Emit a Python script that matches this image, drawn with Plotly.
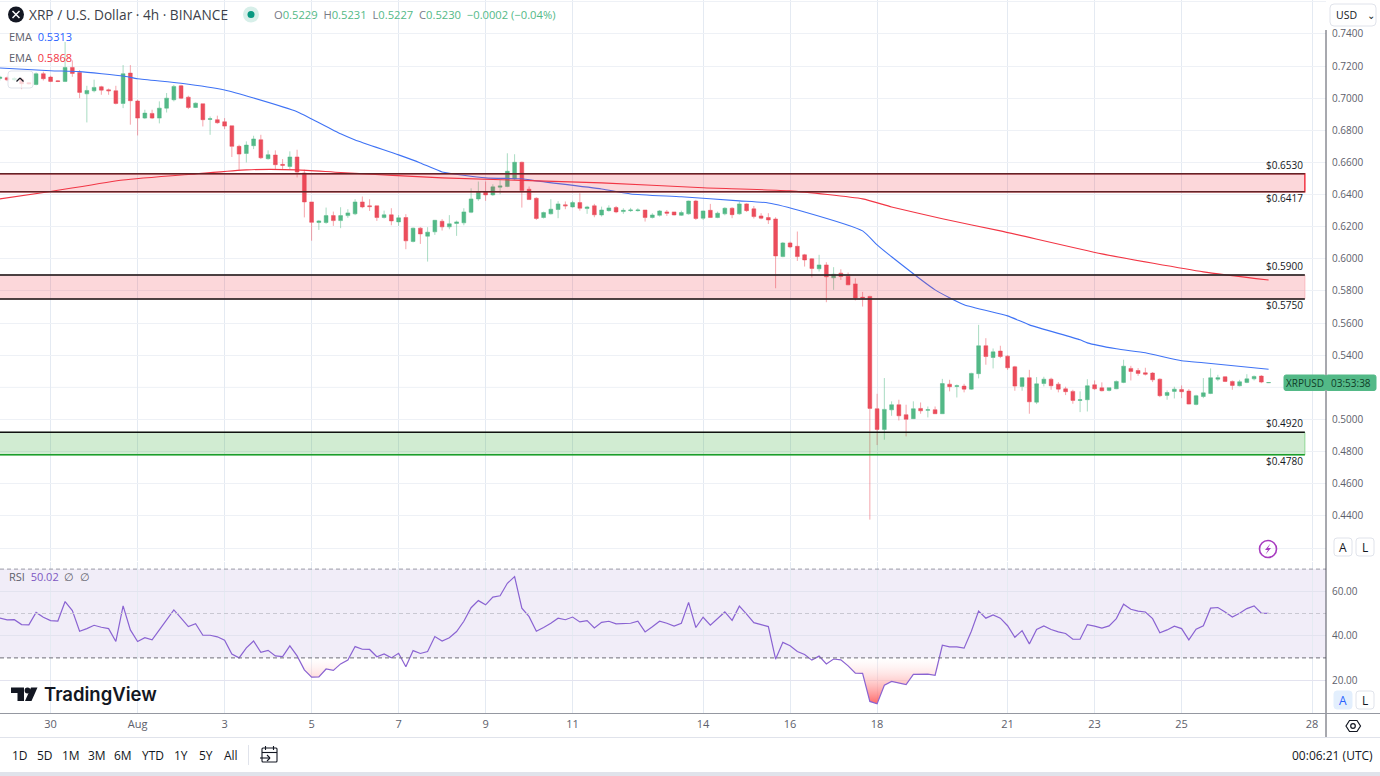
import pandas as pd
import numpy as np
import plotly.graph_objects as go

W, H = 1380, 776
FONT = "Open Sans"

start = "2023-07-28 20:00"
opens = [.7123,.7127,.7114,.7119,.7096,.7085,.7152,
 .7131,.7108,.7104,.7191,.7160,.7027,.7046,.7071,.7052,.7046,
 .6967,.7156,.6982,.6876,.6905,.6876,.6938,.6990,.7077,.7006,
 .6942,.6965,.6868,.6866,.6853,.6828,.6700,.6656,.6704,.6741,
 .6623,.6646,.6588,.6575,.6634,.6534,.6354,.6226,.6226,.6269,
 .6238,.6269,.6280,.6354,.6330,.6330,.6257,.6274,.6230,.6257,
 .6108,.6191,.6141,.6168,.6234,.6199,.6220,.6224,.6290,.6373,
 .6419,.6398,.6446,.6450,.6497,.6601,.6433,.6377,.6257,.6280,
 .6307,.6336,.6323,.6350,.6313,.6330,.6273,.6300,.6319,.6294,
 .6300,.6300,.6304,.6257,.6271,.6292,.6292,.6271,.6280,.6360,
 .6253,.6302,.6257,.6280,.6315,.6280,.6342,.6311,.6267,.6257,
 .6248,.6014,.6099,.6078,.6025,.6000,.5938,.5962,.5882,.5911,
 .5892,.5844,.5761,.5766,.5067,.4938,.5060,.5092,.5030,.5005,
 .5069,.5057,.5061,.5036,.5220,.5206,.5208,.5189,.5285,.5459,
 .5386,.5426,.5394,.5328,.5206,.5260,.5108,.5224,.5251,.5220,
 .5191,.5175,.5119,.5123,.5216,.5197,.5181,.5191,.5231,.5318,
 .5305,.5291,.5289,.5251,.5150,.5175,.5187,.5177,.5094,.5143,
 .5162,.5251,.5266,.5237,.5210,.5231,.5253,.5270,.5229]
closes = [.7131,.7114,.7123,.7090,.7090,.7152,.7121,
 .7104,.7104,.7191,.7154,.7036,.7048,.7067,.7050,.7046,.6967,
 .7152,.6984,.6876,.6907,.6876,.6938,.7000,.7073,.7000,.6942,
 .6969,.6866,.6872,.6847,.6826,.6700,.6652,.6708,.6746,.6629,
 .6648,.6586,.6582,.6634,.6540,.6354,.6227,.6236,.6269,.6238,
 .6269,.6286,.6354,.6323,.6325,.6257,.6274,.6236,.6255,.6112,
 .6191,.6155,.6166,.6240,.6199,.6218,.6230,.6292,.6373,.6419,
 .6398,.6448,.6454,.6545,.6601,.6425,.6369,.6251,.6288,.6309,
 .6342,.6330,.6350,.6315,.6323,.6274,.6304,.6317,.6292,.6302,
 .6304,.6304,.6257,.6273,.6298,.6284,.6273,.6288,.6360,.6251,
 .6298,.6257,.6284,.6315,.6275,.6342,.6300,.6263,.6253,.6242,
 .6018,.6099,.6074,.6014,.5993,.5940,.5962,.5888,.5904,.5890,
 .5838,.5757,.5757,.5069,.4938,.5063,.5092,.5023,.5001,.5067,
 .5054,.5061,.5036,.5224,.5204,.5210,.5189,.5287,.5459,.5392,
 .5421,.5392,.5322,.5208,.5260,.5110,.5222,.5251,.5210,.5189,
 .5173,.5119,.5123,.5210,.5191,.5179,.5198,.5237,.5332,.5299,
 .5287,.5282,.5247,.5148,.5168,.5189,.5173,.5096,.5148,.5166,
 .5260,.5260,.5237,.5212,.5235,.5253,.5268,.5233,.5230]
highs = [.7139,.7135,.7131,.7131,.7100,.7160,.7165,
 .7140,.7112,.7350,.7235,.7175,.7077,.7115,.7077,.7060,.7077,
 .7206,.7206,.6990,.6928,.6928,.6980,.7032,.7083,.7083,.7015,
 .6973,.6965,.6886,.6891,.6876,.6828,.6710,.6731,.6766,.6772,
 .6675,.6675,.6621,.6669,.6679,.6555,.6354,.6242,.6319,.6294,
 .6321,.6309,.6371,.6388,.6371,.6330,.6300,.6315,.6272,.6278,
 .6195,.6197,.6197,.6242,.6247,.6272,.6238,.6315,.6439,.6481,
 .6481,.6464,.6491,.6657,.6651,.6605,.6450,.6383,.6294,.6371,
 .6359,.6357,.6361,.6408,.6330,.6342,.6325,.6333,.6329,.6315,
 .6317,.6315,.6304,.6284,.6304,.6304,.6292,.6300,.6362,.6367,
 .6300,.6342,.6294,.6321,.6321,.6356,.6346,.6329,.6284,.6284,
 .6259,.6105,.6107,.6170,.6031,.6004,.6025,.5979,.5948,.5935,
 .5915,.5879,.5794,.5770,.5160,.5258,.5113,.5123,.5092,.5113,
 .5106,.5081,.5081,.5253,.5247,.5218,.5222,.5291,.5589,.5506,
 .5442,.5459,.5401,.5334,.5264,.5309,.5264,.5266,.5260,.5233,
 .5204,.5185,.5175,.5251,.5243,.5231,.5198,.5243,.5372,.5334,
 .5320,.5322,.5295,.5256,.5181,.5204,.5212,.5189,.5154,.5258,
 .5318,.5278,.5268,.5243,.5247,.5282,.5274,.5276,.5231]
lows = [.7110,.7106,.7106,.7056,.7085,.7080,.7110,
 .7100,.7100,.7100,.7133,.7000,.6849,.7036,.7021,.7021,.6961,
 .6938,.6835,.6768,.6870,.6870,.6843,.6911,.6980,.6994,.6932,
 .6938,.6824,.6772,.6841,.6808,.6634,.6551,.6600,.6683,.6621,
 .6617,.6555,.6555,.6559,.6507,.6258,.6113,.6180,.6218,.6205,
 .6191,.6255,.6272,.6315,.6298,.6236,.6251,.6209,.6205,.6060,
 .6102,.6093,.5983,.6149,.6176,.6184,.6143,.6209,.6284,.6361,
 .6361,.6392,.6402,.6446,.6490,.6319,.6367,.6242,.6251,.6276,
 .6253,.6309,.6319,.6300,.6280,.6259,.6263,.6294,.6284,.6280,
 .6292,.6294,.6232,.6251,.6263,.6267,.6271,.6267,.6275,.6242,
 .6242,.6255,.6253,.6271,.6253,.6275,.6292,.6251,.6246,.6217,
 .5817,.6010,.6066,.5987,.5952,.5884,.5921,.5730,.5807,.5869,
 .5836,.5741,.5703,.4377,.4841,.4874,.5023,.4994,.4895,.5003,
 .5036,.5013,.5034,.5034,.5175,.5137,.5169,.5185,.5256,.5341,
 .5318,.5382,.5309,.5179,.5179,.5036,.5096,.5206,.5185,.5169,
 .5152,.5098,.5046,.5050,.5185,.5175,.5175,.5189,.5226,.5243,
 .5272,.5274,.5233,.5139,.5123,.5131,.5133,.5094,.5088,.5133,
 .5158,.5239,.5233,.5185,.5206,.5226,.5243,.5226,.5227]
rsi = [47.9,47.1,47.2,45.0,44.9,50.5,48.3,46.8,46.6,55.4,51.3,42.0,43.2,44.7,43.8,43.2,
 37.4,53.4,42.6,37.4,39.1,38.1,42.6,47.1,51.6,47.9,44.1,45.4,40.2,40.2,39.5,38.0,
 31.7,30.0,34.5,37.6,32.5,33.4,30.9,30.6,35.4,30.9,24.6,21.3,21.4,25.0,24.4,27.3,
 29.0,35.1,33.9,33.8,30.5,31.8,30.0,32.1,26.0,33.3,32.0,32.9,39.6,37.6,39.1,41.9,
 46.5,52.6,55.8,53.9,57.4,58.0,63.6,66.6,52.4,48.6,42.0,43.7,45.6,47.9,47.2,48.4,
 46.2,46.8,43.5,46.0,46.5,45.3,45.6,45.6,46.5,41.7,44.0,46.5,45.6,44.3,45.6,55.0,
 43.7,48.3,44.7,47.7,50.7,46.9,53.3,49.7,45.9,45.0,44.1,29.4,37.0,35.5,32.9,31.5,
 29.0,30.8,27.3,29.5,29.1,26.4,23.1,23.0,10.4,9.3,17.7,19.4,18.6,18.0,22.6,22.5,
 22.7,22.2,35.7,35.0,35.0,34.4,42.0,51.1,47.9,49.4,47.9,44.5,39.3,42.3,36.3,42.8,
 44.4,42.8,41.7,41.0,38.4,38.4,45.0,44.3,43.4,44.4,47.7,54.2,51.9,51.1,50.7,47.7,
 41.3,42.6,44.3,43.2,38.1,42.9,44.5,52.4,52.7,50.7,48.4,50.1,52.2,53.4,50.1,50.02]
ema_fast_idx = [0,7,11,17,19,25,31,35,41,43,47,49,55,58,61,67,72,74,83,87,94,102,106,111,
                119,121,123,129,133,139,142,149,150,154,158,163,166,175]
ema_fast = [.7188,.7171,.7165,.7138,.7121,.7093,.7051,.7001,.6916,.6871,.6778,.6740,.6647,
            .6597,.6541,.6504,.6498,.6485,.6435,.6404,.6386,.6361,.6348,.6292,.6174,.6087,
            .6013,.5807,.5714,.5645,.5589,.5496,.5477,.5440,.5415,.5366,.5353,.5313]
ema_slow_idx = [0,7,17,27,34,41,47,61,83,97,109,119,123,130,138,152,166,175]
ema_slow = [.6373,.6419,.6491,.6529,.6554,.6554,.6537,.6504,.6473,.6442,.6423,.6373,.6323,
            .6249,.6174,.6031,.5919,.5868]
zones_top = [.6530, .5900, .4920]
zones_bottom = [.6417, .5750, .4780]
zone_end = "2023-08-27 20:00"
label_x = "2023-08-27 00:00"
price_ticks = [.42,.44,.46,.48,.50,.54,.56,.58,.60,.62,.64,.66,.68,.70,.72,.74,.76]
price_text = ["","0.4400","0.4600","0.4800","0.5000","0.5400","0.5600","0.5800",
              "0.6000","0.6200","0.6400","0.6600","0.6800","0.7000","0.7200","0.7400",""]
grid_only_price = [.52]
date_ticks = ["2023-07-30","2023-08-01","2023-08-03","2023-08-05","2023-08-07","2023-08-09",
              "2023-08-11","2023-08-14","2023-08-16","2023-08-18","2023-08-21","2023-08-23",
              "2023-08-25","2023-08-28"]
date_text = ["30","Aug","3","5","7","9","11","14","16","18","21","23","25","28"]
rsi_ticks = [20,40,60]
range_buttons = ["1D","5D","1M","3M","6M","YTD","1Y","5Y","All"]

UP, DOWN = "#53b987", "#eb4d5c"
times = pd.date_range(start, periods=len(opens), freq="4h")
ef_t = times[ema_fast_idx]
es_t = times[ema_slow_idx]
rsi_low = np.minimum(np.array(rsi), 30.0)


def X(p):
    return p / W


def Y(p):
    return 1 - p / H


def line(x0, y0, x1, y1, color, width=1, dash="solid", layer="above"):
    return dict(type="line", xref="paper", yref="paper", x0=X(x0), x1=X(x1), y0=Y(y0), y1=Y(y1),
                line=dict(color=color, width=width, dash=dash), layer=layer)


def rrect(x0, y0, x1, y1, r, stroke="#e0e3eb", fill="white", width=1):
    a, b, c, d = X(x0), X(x1), Y(y0), Y(y1)
    rx, ry = r / W, r / H
    path = (f"M{a+rx},{c} L{b-rx},{c} Q{b},{c} {b},{c-ry} L{b},{d+ry} Q{b},{d} {b-rx},{d} "
            f"L{a+rx},{d} Q{a},{d} {a},{d+ry} L{a},{c-ry} Q{a},{c} {a+rx},{c} Z")
    return dict(type="path", xref="paper", yref="paper", path=path, fillcolor=fill,
                line=dict(color=stroke, width=width), layer="above")


def poly(points, fill="#131722", stroke=None, width=1):
    path = "M" + " L".join(f"{X(a)},{Y(b)}" for a, b in points) + " Z"
    return dict(type="path", xref="paper", yref="paper", path=path, fillcolor=fill,
                line=dict(color=stroke or fill, width=width if stroke else 0), layer="above")


def circle(cx, cy, r, fill, stroke=None, width=0):
    return dict(type="circle", xref="paper", yref="paper", x0=X(cx - r), x1=X(cx + r),
                y0=Y(cy + r), y1=Y(cy - r), fillcolor=fill,
                line=dict(color=stroke or fill, width=width), layer="above")


def text(x, y, s, size=12, color="#131722", anchor="left", bg=None, family=FONT, weight=None):
    f = dict(family=family, size=size, color=color)
    if weight:
        f["weight"] = weight
    return dict(xref="paper", yref="paper", x=X(x), y=Y(y), text=s, showarrow=False, xanchor=anchor,
                yanchor="middle", font=f, bgcolor=bg, borderpad=0)


fig = go.Figure()
fig.add_trace(go.Candlestick(
    x=times, open=opens, high=highs, low=lows, close=closes, xaxis="x", yaxis="y", whiskerwidth=0,
    increasing=dict(fillcolor=UP, line=dict(color="rgba(83,185,135,0.5)", width=1)),
    decreasing=dict(fillcolor=DOWN, line=dict(color="rgba(235,77,92,0.5)", width=1)),
    showlegend=False))
fig.add_trace(go.Scatter(x=ef_t, y=ema_fast, mode="lines",
                         line=dict(color="#3f73f5", width=1.1, shape="spline", smoothing=0.5),
                         xaxis="x", yaxis="y", showlegend=False))
fig.add_trace(go.Scatter(x=es_t, y=ema_slow, mode="lines",
                         line=dict(color="#f23645", width=1.1, shape="spline", smoothing=0.5),
                         xaxis="x", yaxis="y", showlegend=False))
fig.add_trace(go.Scatter(x=times, y=[30] * len(times), mode="lines", line=dict(width=0),
                         xaxis="x2", yaxis="y2", showlegend=False))
fig.add_trace(go.Scatter(x=times, y=rsi_low, mode="lines", line=dict(width=0), fill="tonexty",
                         fillgradient=dict(type="vertical", start=30, stop=9,
                                           colorscale=[[0, "rgba(255,255,255,0.2)"], [1, "rgba(255,82,82,0.9)"]]),
                         xaxis="x2", yaxis="y2", showlegend=False))
fig.add_trace(go.Scatter(x=times, y=rsi, mode="lines", line=dict(color="#8a63d2", width=1.2),
                         xaxis="x2", yaxis="y2", showlegend=False))

shapes = []
# RSI band and levels
shapes.append(dict(type="rect", xref="paper", yref="y2", x0=0, x1=X(1326), y0=30, y1=70,
                   fillcolor="rgba(126,87,194,0.11)", line=dict(width=0), layer="below"))
for lvl, col in [(70, "#9a9aa6"), (50, "#c9c8d2"), (30, "#6f6f78")]:
    shapes.append(dict(type="line", xref="paper", yref="y2", x0=0, x1=X(1326), y0=lvl, y1=lvl,
                       line=dict(color=col, width=1, dash="4px,3px"), layer="above"))
# Grid line kept where the last-price tag covers the tick label
for p in grid_only_price:
    shapes.append(dict(type="line", xref="paper", yref="y", x0=0, x1=X(1326), y0=p, y1=p,
                       line=dict(color="#eef1f6", width=1), layer="below"))
# Zones drawn through data coordinates
zone_fill = ["rgba(242,54,69,0.2)", "rgba(242,54,69,0.2)", "rgba(44,170,50,0.22)"]
zone_side = ["#f23645", "#f9b9bf", "#8fd694"]
top_col = ["rgba(50,30,30,0.75)", "#111111", "#111111"]
bot_col = ["rgba(50,30,30,0.75)", "#111111", "#1b9e2b"]
tm0 = times[0] - pd.Timedelta(hours=8)
for i in range(3):
    shapes.append(dict(type="rect", xref="x", yref="y", x0=tm0, x1=zone_end, y0=zones_bottom[i], y1=zones_top[i],
                       fillcolor=zone_fill[i], line=dict(color=zone_side[i], width=1.5 if i == 0 else 1), layer="above"))
    shapes.append(dict(type="line", xref="x", yref="y", x0=tm0, x1=zone_end, y0=zones_top[i], y1=zones_top[i],
                       line=dict(color=top_col[i], width=1.5), layer="above"))
    shapes.append(dict(type="line", xref="x", yref="y", x0=tm0, x1=zone_end, y0=zones_bottom[i], y1=zones_bottom[i],
                       line=dict(color=bot_col[i], width=1.5), layer="above"))

# Chrome
shapes += [
    line(1326, 30, 1326, 737, "#50535e", 1),
    line(0, 713.5, 1380, 713.5, "#9598a1", 1),
    line(0, 737.5, 1380, 737.5, "#e0e3eb", 1),
    dict(type="rect", xref="paper", yref="paper", x0=0, x1=1, y0=Y(776), y1=Y(772),
         fillcolor="#e0e3eb", line=dict(width=0), layer="above"),
    line(248.5, 745, 248.5, 765, "#e0e3eb", 1),
    rrect(1330, 4, 1376, 26, 4),
    rrect(8, 71, 33, 88, 3, stroke="#e0e3eb", fill="rgba(255,255,255,0.75)"),
    rrect(1334, 538, 1352, 556, 3),
    rrect(1356, 538, 1374, 556, 3),
    rrect(1334, 691, 1352, 709, 3, stroke="#e3effd", fill="#e3effd"),
    rrect(1356, 691, 1374, 709, 3),
    # Last price tag
    rrect(1284, 375, 1326, 390.5, 2, stroke="#53b987", fill="#53b987"),
    rrect(1326, 375, 1376, 390.5, 2, stroke="#53b987", fill="#53b987"),
    # Symbol logo and market dot
    circle(16, 14.5, 8, "#131722"),
    circle(251, 14.5, 8, "#d7efe9"),
    circle(251, 14.5, 3.5, "#089981"),
    line(12.5, 11, 19.5, 18, "white", 1.5),
    line(19.5, 11, 12.5, 18, "white", 1.5),
    line(16.5, 81.5, 20, 78, "#131722", 1.2),
    line(20, 78, 23.5, 81.5, "#131722", 1.2),
    # Lightning button
    circle(1268, 549, 8.5, "rgba(0,0,0,0)", "#a83cc0", 1.6),
    poly([(1270.5, 543.5), (1265, 550), (1268, 550), (1265.5, 554.5), (1271, 548), (1268, 548)], fill="#a83cc0"),
    # TradingView mark
    poly([(11, 687.5), (24, 687.5), (24, 701), (17.5, 701), (17.5, 693), (11, 693)]),
    circle(27.5, 690.5, 2.9, "#131722"),
    poly([(31, 687.5), (37.5, 687.5), (31.5, 701), (25, 701)]),
    # Settings icon
    poly([(1346, 726), (1349.5, 720.5), (1357, 720.5), (1360.5, 726), (1357, 731.5), (1349.5, 731.5)],
         fill="white", stroke="#131722", width=1.2),
    circle(1353, 726, 2.3, "white", "#131722", 1.2),
    # Calendar icon
    rrect(262, 748, 277, 762, 1, stroke="#131722", fill="white", width=1.1),
    line(262, 752.5, 277, 752.5, "#131722", 1.1),
    line(265.5, 746, 265.5, 750, "#131722", 1.1),
    line(273.5, 746, 273.5, 750, "#131722", 1.1),
    line(260, 758, 270, 758, "#131722", 1.1),
    line(267, 755, 270, 758, "#131722", 1.1),
    line(267, 761, 270, 758, "#131722", 1.1),
]
fig.update_layout(shapes=shapes)

G = "#787b86"
ann = [
    text(28, 14.5, "XRP / U.S. Dollar · 4h · BINANCE", 13.7, "#3c3f49"),
    text(273, 14.5,
         f"<span style='color:{G}'>O</span><span style='color:{UP}'>0.5229</span>"
         f"&#160;&#160;<span style='color:{G}'>H</span><span style='color:{UP}'>0.5231</span>"
         f"&#160;&#160;<span style='color:{G}'>L</span><span style='color:{UP}'>0.5227</span>"
         f"&#160;&#160;<span style='color:{G}'>C</span><span style='color:{UP}'>0.5230</span>"
         f"&#160;&#160;<span style='color:{UP}'>−0.0002 (−0.04%)</span>", 11.2),
    text(8, 36, f"<span style='color:#5d606b'>EMA</span>&#160;&#160;<span style='color:#2962ff'>0.5313</span>", 11),
    text(8, 58, f"<span style='color:#5d606b'>EMA</span>&#160;&#160;<span style='color:#f23645'>0.5868</span>", 11),
    text(8, 576.5, f"<span style='color:#5d606b'>RSI</span>&#160;&#160;<span style='color:#7e57c2'>50.02</span>"
                   f"&#160;&#160;<span style='color:#5d606b'>∅&#160;&#160;∅</span>", 11),
    text(43, 694, "TradingView", 18.5, "#131722", family="Inter", weight=600),
    text(1335, 15, "USD", 10.5, "#131722"),
    text(1366, 14.5, "⌄", 10, "#131722"),
    text(1343, 547, "A", 12, "#131722", "center"),
    text(1365, 547, "L", 12, "#131722", "center"),
    text(1343, 700, "A", 12, "#2962ff", "center"),
    text(1365, 700, "L", 12, "#131722", "center"),
    text(1305, 382.7, "XRPUSD", 10, "#0f3d28", "center"),
    text(1351, 382.7, "03:53:38", 10, "#0f3d28", "center"),
    text(1374, 755, "00:06:21 (UTC)", 12, "#131722", "right"),
]
btn_x = [20, 45, 71, 97, 123, 153, 181, 206, 231]
for bx, b in zip(btn_x, range_buttons):
    ann.append(text(bx, 755, b, 12, "#131722", "center"))
for lv, above in [(zones_top[0], True), (zones_bottom[0], False), (zones_top[1], True),
                  (zones_bottom[1], False), (zones_top[2], True), (zones_bottom[2], False)]:
    ann.append(dict(xref="x", yref="y", x=label_x, y=lv, text=f"${lv:.4f}", showarrow=False,
                    xanchor="left", yanchor="bottom" if above else "top", xshift=-5, yshift=0 if above else 3,
                    font=dict(family=FONT, size=10, color="#131722")))
fig.update_layout(annotations=ann)

xr = ["2023-07-28 20:05", "2023-08-28 07:40"]
grid_v = "#e4eaf2"
grid_h = "#eef1f6"
fig.update_layout(
    width=W, height=H, margin=dict(l=0, r=0, t=0, b=0), paper_bgcolor="white", plot_bgcolor="white",
    boxgap=0.25, showlegend=False, hovermode=False,
    font=dict(family=FONT, size=11, color="#5d606b"),
    xaxis=dict(domain=[0, X(1326)], range=xr, anchor="y", type="date", rangeslider=dict(visible=False),
               tickmode="array", tickvals=date_ticks, ticktext=[""] * len(date_ticks), showgrid=True,
               gridcolor=grid_v, gridwidth=1, zeroline=False, showline=False, ticks=""),
    xaxis2=dict(domain=[0, X(1326)], range=xr, anchor="y2", matches="x", type="date",
                tickmode="array", tickvals=date_ticks, ticktext=date_text, showgrid=True,
                gridcolor=grid_v, gridwidth=1, zeroline=False, showline=False, ticks="",
                ticklabelstandoff=3, tickfont=dict(family=FONT, size=11, color="#5d606b")),
    yaxis=dict(domain=[Y(561), 1], range=[.7611 - .0006224 * 561, .7611], anchor="x", side="right", fixedrange=True,
               tickmode="array", tickvals=price_ticks, ticktext=price_text, showgrid=True, gridcolor=grid_h,
               zeroline=False, showline=False, ticks="", ticklabelstandoff=5,
               tickfont=dict(family=FONT, size=10, color="#5d606b")),
    yaxis2=dict(domain=[Y(713), Y(562)], range=[60 + (591.3 - 713) / 2.22, 60 + (591.3 - 562) / 2.22], anchor="x2",
                side="right", fixedrange=True, tickmode="array", tickvals=rsi_ticks,
                ticktext=[f"{v:.2f}" for v in rsi_ticks], showgrid=True, gridcolor="#e3e3ef", zeroline=False,
                showline=False, ticks="", ticklabelstandoff=5,
                tickfont=dict(family=FONT, size=10, color="#5d606b")),
)

fig.write_html("out.html", config=dict(displayModeBar=False),
               post_script="document.body.style.margin='0';document.body.style.overflow='hidden';")
